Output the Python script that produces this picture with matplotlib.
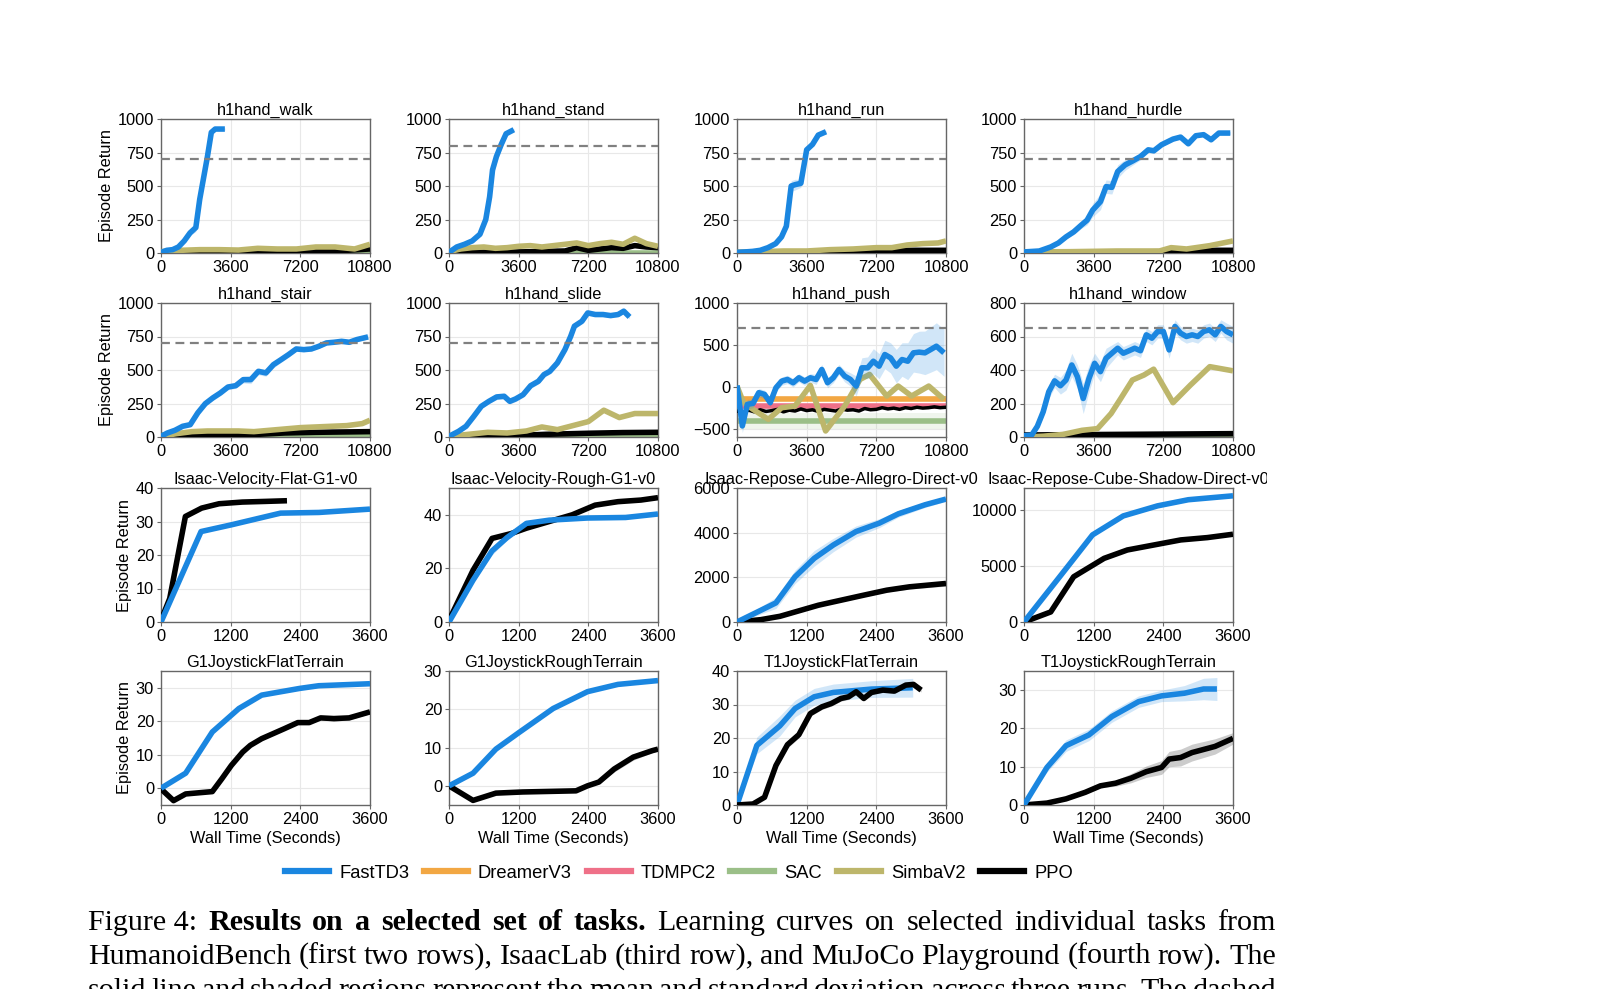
import numpy as np
import matplotlib
matplotlib.use("Agg")
from matplotlib import pyplot as plt
from matplotlib.lines import Line2D
from matplotlib.transforms import Bbox, TransformedBbox

plt.rcParams['font.family'] = ['Liberation Sans', 'DejaVu Sans']

# colours of the methods
C_FAST = '#1a86e0'
C_DREAM = '#f2a743'
C_TDMPC = '#ef7088'
C_SAC = '#9bbf88'
C_SIMBA = '#bdb66b'
C_PPO = '#000000'

METHODS = ['FastTD3', 'DreamerV3', 'TDMPC2', 'SAC', 'SimbaV2', 'PPO']
COLORS = [C_FAST, C_DREAM, C_TDMPC, C_SAC, C_SIMBA, C_PPO]

# ---------------- data ----------------
# h1hand_walk
walk_fast_x = [0, 300, 600, 900, 1200, 1500, 1800, 2000, 2200, 2400, 2600, 2800, 3000, 3300]
walk_fast_y = [5, 20, 25, 45, 90, 150, 190, 400, 560, 720, 900, 925, 925, 925]
walk_fast_sd = [3, 5, 5, 8, 10, 20, 30, 60, 60, 40, 15, 8, 8, 8]
walk_simba_x = [0, 1000, 2000, 3000, 4000, 5000, 6000, 7000, 8000, 9000, 10000, 10800]
walk_simba_y = [10, 20, 25, 25, 22, 35, 30, 30, 45, 45, 30, 65]
walk_ppo_x = [0, 3600, 7200, 8400, 9600, 10800]
walk_ppo_y = [3, 5, 8, 15, 20, 30]

# h1hand_stand
stand_fast_x = [0, 400, 800, 1200, 1600, 1900, 2100, 2250, 2450, 2700, 2950, 3350]
stand_fast_y = [5, 45, 65, 90, 140, 250, 420, 620, 720, 810, 890, 920]
stand_fast_sd = [3, 8, 8, 10, 15, 30, 50, 60, 50, 40, 20, 10]
stand_simba_x = [0, 600, 1200, 1800, 2400, 3000, 3600, 4200, 4800, 5400, 6000, 6600, 7200, 7800, 8400, 9000, 9600, 10200, 10800]
stand_simba_y = [10, 30, 40, 45, 35, 40, 50, 55, 45, 55, 65, 75, 55, 70, 80, 65, 110, 70, 50]
stand_ppo_x = [0, 3600, 6000, 6600, 7200, 8400, 9000, 9600, 10200, 10800]
stand_ppo_y = [3, 8, 15, 40, 20, 40, 35, 55, 45, 40]

# h1hand_run
run_fast_x = [0, 400, 800, 1200, 1600, 2000, 2300, 2550, 2800, 3000, 3300, 3600, 3900, 4200, 4600]
run_fast_y = [5, 8, 12, 20, 40, 70, 120, 200, 500, 510, 520, 770, 810, 880, 905]
run_fast_sd = [3, 3, 4, 5, 8, 10, 15, 20, 40, 40, 30, 20, 15, 10, 10]
run_simba_x = [0, 1200, 2400, 3600, 4800, 6000, 7200, 8000, 8800, 9600, 10400, 10800]
run_simba_y = [5, 10, 15, 15, 25, 30, 40, 40, 60, 70, 75, 90]
run_ppo_x = [0, 3600, 7200, 8400, 10800]
run_ppo_y = [3, 5, 10, 20, 20]

# h1hand_hurdle
hurdle_fast_x = [0, 790, 1380, 1780, 2170, 2570, 2960, 3260, 3550, 3950, 4240, 4540, 4840, 5230, 5630, 6020,
                 6420, 6710, 7110, 7700, 8090, 8490, 8880, 9280, 9670, 10070, 10660]
hurdle_fast_y = [8, 15, 45, 75, 120, 158, 208, 245, 320, 383, 495, 490, 608, 658, 688, 720,
                 770, 763, 808, 850, 865, 815, 875, 883, 845, 895, 895]
hurdle_fast_sd = [3, 5, 8, 10, 15, 20, 25, 35, 50, 60, 50, 50, 50, 40, 30, 25,
                  20, 20, 15, 15, 12, 12, 10, 10, 10, 10, 10]
hurdle_simba_x = [0, 2400, 4800, 7000, 7600, 8400, 9600, 10800]
hurdle_simba_y = [8, 10, 15, 15, 40, 30, 55, 90]
hurdle_ppo_x = [0, 3600, 7200, 8400, 10800]
hurdle_ppo_y = [3, 5, 10, 20, 20]

# h1hand_stair
stair_fast_x = [0, 330, 720, 1120, 1510, 1900, 2290, 2680, 3070, 3460, 3860, 4250, 4640, 5030, 5420,
                5810, 6200, 6590, 6990, 7380, 7770, 8160, 8550, 8940, 9330, 9730, 10120, 10700]
stair_fast_y = [5, 30, 50, 80, 92, 180, 249, 292, 329, 373, 383, 428, 428, 490, 478,
                540, 577, 615, 657, 652, 657, 677, 702, 707, 714, 707, 727, 747]
stair_fast_sd = [3, 5, 8, 10, 10, 15, 20, 20, 20, 20, 20, 25, 30, 25, 25,
                 25, 20, 20, 15, 15, 15, 15, 15, 15, 15, 15, 15, 15]
stair_simba_x = [0, 800, 1600, 2400, 3200, 4000, 4800, 5600, 6400, 7200, 8000, 8800, 9600, 10400, 10800]
stair_simba_y = [5, 25, 40, 45, 45, 45, 40, 50, 60, 70, 75, 80, 85, 100, 125]
stair_ppo_x = [0, 2400, 5000, 6400, 8000, 10800]
stair_ppo_y = [3, 10, 20, 30, 35, 40]
stair_sac_x = [0, 10800]
stair_sac_y = [12, 12]

# h1hand_slide
slide_fast_x = [0, 490, 880, 1280, 1670, 2060, 2460, 2850, 3140, 3440, 3830, 4220, 4620, 4910,
                5210, 5600, 5990, 6290, 6480, 6870, 7170, 7560, 7960, 8350, 8740, 9030, 9330]
slide_fast_y = [5, 42, 80, 154, 229, 266, 299, 304, 266, 284, 316, 383, 416, 466,
                490, 553, 652, 752, 827, 864, 926, 914, 914, 906, 914, 939, 896]
slide_fast_sd = [3, 5, 8, 10, 15, 15, 20, 20, 20, 20, 20, 20, 20, 20,
                 20, 20, 20, 20, 20, 20, 15, 15, 15, 15, 15, 15, 15]
slide_simba_x = [0, 1000, 2000, 3000, 4000, 4800, 5600, 6400, 7200, 8000, 8800, 9600, 10400, 10800]
slide_simba_y = [5, 20, 35, 30, 45, 75, 55, 85, 115, 200, 145, 175, 175, 175]
slide_ppo_x = [0, 3000, 5000, 7200, 9000, 10800]
slide_ppo_y = [3, 8, 20, 28, 33, 35]

# h1hand_push
push_fast_x = [0, 276, 533, 829, 1125, 1421, 1717, 2013, 2309, 2605, 2901, 3197, 3494, 3790, 4086, 4382,
               4678, 4974, 5270, 5566, 5862, 6158, 6454, 6750, 7046, 7343, 7639, 7935, 8231, 8527,
               8823, 9119, 9415, 9711, 10007, 10303, 10698]
push_fast_y = [16, -468, -210, -198, -71, -91, -190, -12, 67, 87, 48, 107, 67, 107, 87, 206,
               48, 107, 206, 127, 87, 8, 226, 226, 305, 246, 385, 345, 246, 325,
               305, 405, 413, 405, 444, 484, 405]
push_fast_sd = [30, 80, 60, 50, 50, 50, 50, 50, 50, 50, 50, 50, 50, 50, 60, 60,
                60, 60, 60, 70, 80, 120, 120, 130, 150, 150, 170, 180, 200, 200,
                220, 230, 250, 260, 270, 280, 280]
push_simba_x = [0, 335, 829, 1619, 2309, 3000, 3790, 4580, 5566, 6355, 6850, 7738, 8330, 9020, 9909, 10698]
push_simba_y = [8, -190, -270, -389, -250, -230, 16, -528, -230, 87, 147, -111, 8, -111, 8, -151]
push_dream_y = -143
push_tdmpc_y = -232
push_sac_y = -409
push_ppo_x = [0, 300, 600, 900, 1200, 1500, 1800, 2100, 2400, 2700, 3000, 3300, 3600, 3900, 4200,
              4500, 4800, 5100, 5400, 5700, 6000, 6300, 6600, 6900, 7200, 7500, 7800, 8100, 8400,
              8700, 9000, 9300, 9600, 9900, 10200, 10500, 10800]
push_ppo_y = [-290, -310, -280, -300, -275, -295, -285, -270, -300, -280, -290, -265, -285, -275, -295,
              -270, -280, -290, -265, -280, -275, -290, -260, -275, -270, -250, -265, -255, -270,
              -250, -260, -245, -255, -250, -240, -250, -245]

# h1hand_window
window_fast_x = [0, 400, 690, 990, 1280, 1580, 1880, 2170, 2470, 2760, 3060, 3360, 3650, 3950, 4240,
                 4540, 4840, 5130, 5430, 5720, 6020, 6320, 6610, 6910, 7200, 7500, 7800, 8090,
                 8390, 8690, 8980, 9280, 9580, 9880, 10170, 10470, 10800]
window_fast_y = [8, 12, 64, 150, 270, 335, 306, 340, 430, 360, 230, 350, 440, 390, 470,
                 500, 530, 500, 515, 530, 515, 610, 590, 630, 630, 520, 660, 620,
                 600, 610, 600, 630, 640, 610, 660, 630, 610]
window_fast_sd = [5, 8, 15, 30, 40, 40, 50, 60, 70, 70, 90, 80, 60, 60, 60,
                  50, 40, 40, 40, 40, 40, 40, 40, 40, 40, 50, 40, 40,
                  40, 40, 40, 40, 40, 40, 40, 50, 50]
window_simba_x = [0, 1000, 2000, 3000, 3800, 4500, 5000, 5600, 6200, 6700, 7700, 8600, 9600, 10800]
window_simba_y = [0, 5, 15, 40, 50, 140, 230, 340, 370, 405, 205, 310, 420, 395]
window_ppo_x = [0, 10800]
window_ppo_y = [12, 20]
window_sac_x = [0, 10800]
window_sac_y = [5, 5]

# Isaac-Velocity-Flat-G1-v0
vflat_fast_x = [0, 690, 1210, 2060, 2720, 3600]
vflat_fast_y = [0, 27, 29, 32.5, 32.7, 33.7]
vflat_ppo_x = [0, 150, 420, 700, 1000, 1400, 1800, 2170]
vflat_ppo_y = [0.5, 7, 31.5, 34, 35.3, 35.8, 36, 36.2]

# Isaac-Velocity-Rough-G1-v0
vrough_fast_x = [0, 414, 740, 1000, 1334, 1728, 2385, 3042, 3600]
vrough_fast_y = [0, 15.6, 26.5, 31.5, 36.8, 38, 38.8, 39, 40.3]
vrough_ppo_x = [0, 414, 742, 1071, 1334, 1728, 2122, 2516, 2910, 3305, 3600]
vrough_ppo_y = [0.6, 19.3, 31.2, 33, 35, 37.5, 40, 43.6, 44.9, 45.5, 46.4]

# Isaac-Repose-Cube-Allegro-Direct-v0
allegro_fast_x = [0, 670, 1000, 1330, 1660, 2050, 2450, 2780, 3240, 3600]
allegro_fast_y = [0, 855, 2025, 2850, 3450, 4050, 4425, 4845, 5250, 5505]
allegro_fast_sd = [30, 250, 300, 350, 300, 250, 200, 150, 120, 100]
allegro_ppo_x = [0, 410, 740, 1000, 1400, 1790, 2180, 2580, 2970, 3600]
allegro_ppo_y = [0, 105, 255, 450, 750, 975, 1200, 1425, 1575, 1725]
allegro_ppo_sd = [10, 20, 30, 40, 50, 60, 70, 80, 100, 120]

# Isaac-Repose-Cube-Shadow-Direct-v0
shadow_fast_x = [0, 660, 1180, 1710, 2300, 2830, 3600]
shadow_fast_y = [0, 4350, 7800, 9500, 10400, 10950, 11300]
shadow_ppo_x = [0, 460, 855, 1380, 1780, 2240, 2700, 3160, 3600]
shadow_ppo_y = [0, 900, 4050, 5700, 6450, 6900, 7350, 7560, 7860]

# G1JoystickFlatTerrain
g1flat_fast_x = [0, 425, 884, 1342, 1734, 2389, 2716, 3600]
g1flat_fast_y = [0, 4.5, 16.8, 23.8, 27.8, 29.8, 30.6, 31.2]
g1flat_ppo_x = [0, 216, 425, 884, 1047, 1211, 1407, 1538, 1734, 1931, 2127, 2356, 2553, 2749, 2978, 3240, 3600]
g1flat_ppo_y = [-0.2, -3.7, -1.7, -1, 2.8, 6.8, 10.8, 12.8, 14.8, 16.3, 17.8, 19.6, 19.6, 21, 20.8, 21, 22.8]
g1flat_ppo_sd = [0.2, 0.3, 0.3, 0.3, 0.4, 0.4, 0.4, 0.4, 0.4, 0.4, 0.4, 0.4, 0.4, 0.5, 0.8, 0.6, 0.5]

# G1JoystickRoughTerrain
g1rough_fast_x = [0, 414, 808, 1203, 1794, 2385, 2910, 3600]
g1rough_fast_y = [0, 3.3, 9.6, 13.9, 20.2, 24.6, 26.5, 27.5]
g1rough_ppo_x = [0, 414, 808, 1268, 2188, 2385, 2582, 2845, 3173, 3502, 3600]
g1rough_ppo_y = [0, -3.8, -1.9, -1.6, -1.3, 0, 1, 4.4, 7.5, 9.2, 9.6]
g1rough_ppo_sd = [0.1, 0.2, 0.2, 0.2, 0.2, 0.3, 0.4, 0.8, 0.8, 0.5, 0.5]

# T1JoystickFlatTerrain
t1flat_fast_x = [0, 342, 737, 1000, 1329, 1658, 2316, 3027]
t1flat_fast_y = [0, 17.8, 23.6, 28.8, 32.3, 33.6, 34.6, 35]
t1flat_fast_sd = [0.3, 2.5, 3, 2.5, 2.5, 2.5, 2.5, 2.8]
t1flat_ppo_x = [0, 276, 474, 671, 869, 1066, 1263, 1461, 1625, 1790, 1921, 2053, 2184, 2316, 2513, 2711, 2908, 3040, 3172]
t1flat_ppo_y = [0, 0.3, 2.3, 11.8, 18, 21, 27.3, 29.3, 30.3, 31.8, 32.3, 33.8, 31.8, 33.6, 34.3, 34, 35.8, 36, 34.3]
t1flat_ppo_sd = [0.1, 0.2, 0.4, 0.8, 1, 1, 0.8, 0.8, 0.8, 0.8, 0.8, 0.8, 0.6, 0.6, 0.6, 0.6, 0.6, 0.6, 0.6]

# T1JoystickRoughTerrain
t1rough_fast_x = [0, 395, 724, 1118, 1513, 1974, 2369, 2763, 3092, 3323]
t1rough_fast_y = [0, 9.8, 15.5, 18.3, 23.1, 27, 28.5, 29.2, 30.3, 30.3]
t1rough_fast_sd = [0.2, 1.2, 1.5, 1.5, 1.5, 1.5, 1.5, 2.0, 2.8, 3.0]
t1rough_ppo_x = [0, 395, 724, 1053, 1316, 1579, 1842, 2105, 2369, 2500, 2698, 2895, 3290, 3600]
t1rough_ppo_y = [0, 0.5, 1.6, 3.3, 5, 5.7, 7, 8.7, 9.8, 12, 12.4, 13.7, 15.3, 17.4]
t1rough_ppo_sd = [0.1, 0.2, 0.3, 0.4, 0.5, 0.8, 1.2, 1.5, 1.8, 2, 2.2, 2.2, 2, 1.5]

# ---------------- figure ----------------
fig = plt.figure(figsize=(16, 9.89), dpi=100)

col_left = [161, 449, 737, 1024]
row_top = [119, 303, 488, 671]
ax_w, ax_h = 209, 134
LW = 4.0
FS = 11.8


def make_ax(r, c):
    l = col_left[c] / 1600
    b = 1 - (row_top[r] + ax_h) / 989
    ax = fig.add_axes([l, b, ax_w / 1600, ax_h / 989])
    ax.grid(True, color='#e8e8e8', lw=0.8)
    ax.set_axisbelow(True)
    for s in ax.spines.values():
        s.set_color('#666666')
        s.set_linewidth(1.0)
    ax.tick_params(labelsize=FS, length=3, width=0.8, color='#666666', pad=2)
    return ax


def curve(ax, x, y, color, sd=None, alpha=0.2, z=3):
    x = np.asarray(x, float)
    y = np.asarray(y, float)
    if sd is not None:
        sd = np.asarray(sd, float)
        ax.fill_between(x, y - sd, y + sd, color=color, alpha=alpha, lw=0, zorder=z - 1)
    ax.plot(x, y, color=color, lw=LW, zorder=z, solid_capstyle='butt')


def flat(ax, yv, color, band, z=2):
    ax.axhspan(yv - band, yv + band, color=color, alpha=0.15, lw=0, zorder=z - 1)
    ax.axhline(yv, color=color, lw=LW, zorder=z)


def finish(ax, title, xmax, ylim, yticks, thresh=None, ylabel=False, xlabel=False):
    if thresh is not None:
        ax.axhline(thresh, color='#808080', ls=(0, (4, 2.5)), lw=1.6, zorder=6)
    ax.set_xlim(0, xmax)
    ax.set_ylim(*ylim)
    ax.set_yticks(yticks)
    if xmax == 10800:
        ax.set_xticks([0, 3600, 7200, 10800])
    else:
        ax.set_xticks([0, 1200, 2400, 3600])
    t = ax.set_title(title, fontsize=FS, pad=3)
    if ylabel:
        ax.set_ylabel('Episode Return', fontsize=FS, labelpad=3)
    if xlabel:
        ax.set_xlabel('Wall Time (Seconds)', fontsize=FS, labelpad=3)
    return t


H_TICKS = [0, 250, 500, 750, 1000]

# row 1
ax = make_ax(0, 0)
curve(ax, [0, 10800], [1, 1], C_SAC, z=2)
curve(ax, walk_ppo_x, walk_ppo_y, C_PPO, z=3)
curve(ax, walk_simba_x, walk_simba_y, C_SIMBA, z=4)
curve(ax, walk_fast_x, walk_fast_y, C_FAST, walk_fast_sd, z=5)
finish(ax, 'h1hand_walk', 10800, (0, 1000), H_TICKS, 700, ylabel=True)

ax = make_ax(0, 1)
curve(ax, [0, 10800], [1, 1], C_SAC, z=2)
curve(ax, stand_ppo_x, stand_ppo_y, C_PPO, z=3)
curve(ax, stand_simba_x, stand_simba_y, C_SIMBA, z=4)
curve(ax, stand_fast_x, stand_fast_y, C_FAST, stand_fast_sd, z=5)
finish(ax, 'h1hand_stand', 10800, (0, 1000), H_TICKS, 800)

ax = make_ax(0, 2)
curve(ax, [0, 10800], [1, 1], C_SAC, z=2)
curve(ax, run_ppo_x, run_ppo_y, C_PPO, z=3)
curve(ax, run_simba_x, run_simba_y, C_SIMBA, z=4)
curve(ax, run_fast_x, run_fast_y, C_FAST, run_fast_sd, z=5)
finish(ax, 'h1hand_run', 10800, (0, 1000), H_TICKS, 700)

ax = make_ax(0, 3)
curve(ax, [0, 10800], [1, 1], C_SAC, z=2)
curve(ax, hurdle_ppo_x, hurdle_ppo_y, C_PPO, z=3)
curve(ax, hurdle_simba_x, hurdle_simba_y, C_SIMBA, z=4)
curve(ax, hurdle_fast_x, hurdle_fast_y, C_FAST, hurdle_fast_sd, z=5)
finish(ax, 'h1hand_hurdle', 10800, (0, 1000), H_TICKS, 700)

# row 2
ax = make_ax(1, 0)
curve(ax, stair_sac_x, stair_sac_y, C_SAC, z=2)
curve(ax, stair_ppo_x, stair_ppo_y, C_PPO, z=3)
curve(ax, stair_simba_x, stair_simba_y, C_SIMBA, z=4)
curve(ax, stair_fast_x, stair_fast_y, C_FAST, stair_fast_sd, z=5)
finish(ax, 'h1hand_stair', 10800, (0, 1000), H_TICKS, 700, ylabel=True)

ax = make_ax(1, 1)
curve(ax, [0, 10800], [3, 3], C_SAC, z=2)
curve(ax, slide_ppo_x, slide_ppo_y, C_PPO, z=3)
curve(ax, slide_simba_x, slide_simba_y, C_SIMBA, z=4)
curve(ax, slide_fast_x, slide_fast_y, C_FAST, slide_fast_sd, z=5)
finish(ax, 'h1hand_slide', 10800, (0, 1000), H_TICKS, 700)

ax = make_ax(1, 2)
flat(ax, push_sac_y, C_SAC, 90, z=2)
flat(ax, push_dream_y, C_DREAM, 30, z=2)
flat(ax, push_tdmpc_y, C_TDMPC, 30, z=2)
ax.plot(push_ppo_x, push_ppo_y, color=C_PPO, lw=2.5, zorder=3)
curve(ax, push_simba_x, push_simba_y, C_SIMBA, z=4)
curve(ax, push_fast_x, push_fast_y, C_FAST, push_fast_sd, z=5)
finish(ax, 'h1hand_push', 10800, (-600, 1000), [-500, 0, 500, 1000], 700)

ax = make_ax(1, 3)
curve(ax, window_sac_x, window_sac_y, C_SAC, z=2)
curve(ax, window_ppo_x, window_ppo_y, C_PPO, z=3)
curve(ax, window_simba_x, window_simba_y, C_SIMBA, z=4)
curve(ax, window_fast_x, window_fast_y, C_FAST, window_fast_sd, z=5)
finish(ax, 'h1hand_window', 10800, (0, 800), [0, 200, 400, 600, 800], 650)

# row 3
ax = make_ax(2, 0)
curve(ax, vflat_ppo_x, vflat_ppo_y, C_PPO, z=3)
curve(ax, vflat_fast_x, vflat_fast_y, C_FAST, z=5)
finish(ax, 'Isaac-Velocity-Flat-G1-v0', 3600, (0, 40), [0, 10, 20, 30, 40], ylabel=True)

ax = make_ax(2, 1)
curve(ax, vrough_ppo_x, vrough_ppo_y, C_PPO, z=3)
curve(ax, vrough_fast_x, vrough_fast_y, C_FAST, [0, 1, 1.5, 1, 0.5, 0.5, 0.5, 0.5, 0.5], z=5)
finish(ax, 'Isaac-Velocity-Rough-G1-v0', 3600, (0, 50), [0, 20, 40])

ax = make_ax(2, 2)
curve(ax, allegro_ppo_x, allegro_ppo_y, C_PPO, allegro_ppo_sd, z=3)
curve(ax, allegro_fast_x, allegro_fast_y, C_FAST, allegro_fast_sd, z=5)
finish(ax, 'Isaac-Repose-Cube-Allegro-Direct-v0', 3600, (0, 6000), [0, 2000, 4000, 6000])

ax = make_ax(2, 3)
curve(ax, shadow_ppo_x, shadow_ppo_y, C_PPO, z=3)
curve(ax, shadow_fast_x, shadow_fast_y, C_FAST, z=5)
t = finish(ax, 'Isaac-Repose-Cube-Shadow-Direct-v0', 3600, (0, 12000), [0, 5000, 10000])
# the source figure is cropped just past this title
t.set_clip_box(TransformedBbox(Bbox([[0, 0], [1267 / 1600, 1]]), fig.transFigure))
t.set_clip_on(True)

# row 4
ax = make_ax(3, 0)
curve(ax, g1flat_ppo_x, g1flat_ppo_y, C_PPO, g1flat_ppo_sd, z=3)
curve(ax, g1flat_fast_x, g1flat_fast_y, C_FAST, z=5)
finish(ax, 'G1JoystickFlatTerrain', 3600, (-5, 35), [0, 10, 20, 30], ylabel=True, xlabel=True)

ax = make_ax(3, 1)
curve(ax, g1rough_ppo_x, g1rough_ppo_y, C_PPO, g1rough_ppo_sd, z=3)
curve(ax, g1rough_fast_x, g1rough_fast_y, C_FAST, z=5)
finish(ax, 'G1JoystickRoughTerrain', 3600, (-5, 30), [0, 10, 20, 30], xlabel=True)

ax = make_ax(3, 2)
curve(ax, t1flat_fast_x, t1flat_fast_y, C_FAST, t1flat_fast_sd, z=3)
curve(ax, t1flat_ppo_x, t1flat_ppo_y, C_PPO, t1flat_ppo_sd, z=5)
finish(ax, 'T1JoystickFlatTerrain', 3600, (0, 40), [0, 10, 20, 30, 40], xlabel=True)

ax = make_ax(3, 3)
curve(ax, t1rough_ppo_x, t1rough_ppo_y, C_PPO, t1rough_ppo_sd, z=3)
curve(ax, t1rough_fast_x, t1rough_fast_y, C_FAST, t1rough_fast_sd, z=5)
finish(ax, 'T1JoystickRoughTerrain', 3600, (0, 35), [0, 10, 20, 30], xlabel=True)

# legend
handles = [Line2D([], [], color=c, lw=4.5) for c in COLORS]
fig.legend(handles, METHODS, loc='center', bbox_to_anchor=(679 / 1600, 1 - 873 / 989), ncol=6,
           frameon=False, fontsize=13.2, handlelength=2.4, columnspacing=0.8, handletextpad=0.55)

# caption (justified lines)
caption_lines = [
    [('Figure 4:', False), ('Results', True), ('on', True), ('a', True), ('selected', True), ('set', True),
     ('of', True), ('tasks.', True), ('Learning', False), ('curves', False), ('on', False), ('selected', False),
     ('individual', False), ('tasks', False), ('from', False)],
    [(w, False) for w in 'HumanoidBench (first two rows), IsaacLab (third row), and MuJoCo Playground (fourth row). The'.split()],
    [(w, False) for w in 'solid line and shaded regions represent the mean and standard deviation across three runs. The dashed'.split()],
]
cap_x0, cap_x1 = 88, 1276
cap_base = [930, 964, 998]
SERIF = ['Liberation Serif', 'DejaVu Serif']

fig.canvas.draw()
renderer = fig.canvas.get_renderer()

# pick the font size so that line 2 fills the width with normal spacing
probe = fig.text(0, 0, ' '.join(w for w, _ in caption_lines[1]), fontsize=20, family=SERIF)
probe_w = probe.get_window_extent(renderer).width
probe.remove()
cap_size = 20 * (cap_x1 - cap_x0) / probe_w

for words, yb in zip(caption_lines, cap_base):
    items = []
    total = 0
    for w, bold in words:
        t = fig.text(0, 0, w, fontsize=cap_size, family=SERIF,
                     fontweight='bold' if bold else 'normal', va='baseline', ha='left')
        wd = t.get_window_extent(renderer).width
        items.append((t, wd))
        total += wd
    gap = (cap_x1 - cap_x0 - total) / (len(items) - 1)
    x = cap_x0
    for t, wd in items:
        t.set_position((x / 1600, 1 - yb / 989))
        x += wd + gap

fig.savefig('out.png', dpi=100)
